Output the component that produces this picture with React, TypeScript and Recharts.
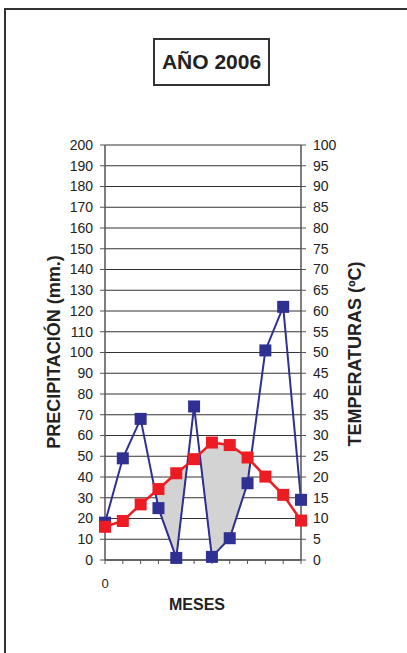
import React from 'react';
import { ComposedChart, Line, Area, XAxis, YAxis, CartesianGrid } from 'recharts';

const monthIndex = [1, 2, 3, 4, 5, 6, 7, 8, 9, 10, 11, 12];
const precipitation = [18, 49, 68, 25, 1, 74, 1.5, 10.5, 37, 101, 122, 29];
const temperature = [8, 9.4, 13.4, 17.1, 20.9, 24.3, 28.3, 27.7, 24.7, 20.1, 15.7, 9.5];
const precipTicks = [0, 10, 20, 30, 40, 50, 60, 70, 80, 90, 100, 110, 120, 130, 140, 150, 160, 170, 180, 190, 200];
const tempTicks = [0, 5, 10, 15, 20, 25, 30, 35, 40, 45, 50, 55, 60, 65, 70, 75, 80, 85, 90, 95, 100];
const xTickLabels = ['0'];

const FONT = '"Liberation Sans", Arial, sans-serif';
const BLUE = '#2e3192';
const RED = '#ed1c24';

type Row = { x: number; p: number | null; t: number | null; dry: [number, number] | null };

function buildRows(): Row[] {
  const rows: Row[] = [];
  const n = monthIndex.length;
  for (let i = 0; i < n; i++) {
    const p = precipitation[i];
    const t2 = temperature[i] * 2;
    rows.push({ x: monthIndex[i], p, t: temperature[i], dry: p < t2 ? [p, t2] : null });
    if (i < n - 1) {
      const p2 = precipitation[i + 1];
      const t22 = temperature[i + 1] * 2;
      const d1 = p - t2;
      const d2 = p2 - t22;
      if ((d1 < 0) !== (d2 < 0) && d1 !== d2) {
        const f = d1 / (d1 - d2);
        const x = monthIndex[i] + f * (monthIndex[i + 1] - monthIndex[i]);
        const v = p + f * (p2 - p);
        rows.push({ x, p: null, t: null, dry: [v, v] });
      }
    }
  }
  return rows;
}

const rows = buildRows();

const makeSquare = (color: string) => (props: any) => {
  const { cx, cy, index, value } = props;
  if (cx == null || cy == null || value == null || Number.isNaN(cy)) return <g key={`e-${index}`} />;
  const s = 12;
  return <rect key={`d-${index}`} x={cx - s / 2} y={cy - s / 2} width={s} height={s} fill={color} />;
};

const XTick = (props: any) => {
  const { x, y, index } = props;
  const label = xTickLabels[index];
  if (!label) return <g />;
  return (
    <text x={x} y={y + 22} textAnchor="middle" fontSize={13} fontFamily={FONT} fill="#222">
      {label}
    </text>
  );
};

export default function App() {
  return (
    <div style={{ position: 'absolute', left: 0, top: 0, width: 407, height: 653, background: '#fff', overflow: 'hidden' }}>
      <div
        style={{
          position: 'absolute',
          left: 4,
          top: 8,
          width: 420,
          height: 680,
          borderLeft: '2px solid #333',
          borderTop: '2px solid #333',
          boxSizing: 'border-box',
        }}
      />
      <ComposedChart
        width={407}
        height={653}
        data={rows}
        margin={{ top: 145, left: 45, right: 46, bottom: 63 }}
        style={{ position: 'absolute', left: 0, top: 0 }}
      >
        <CartesianGrid yAxisId="p" vertical={false} horizontal stroke="#333" strokeWidth={1} />
        <XAxis
          dataKey="x"
          type="number"
          domain={[1, 12]}
          ticks={monthIndex}
          interval={0}
          height={30}
          axisLine={{ stroke: '#555', strokeWidth: 1.5 }}
          tickLine={{ stroke: '#555' }}
          tickSize={4}
          tick={<XTick />}
        />
        <YAxis
          yAxisId="p"
          orientation="left"
          width={60}
          domain={[0, 200]}
          ticks={precipTicks}
          interval={0}
          axisLine={{ stroke: '#555', strokeWidth: 1.5 }}
          tickLine={{ stroke: '#555' }}
          tickSize={5}
          tickMargin={7}
          tick={{ fontSize: 14, fontFamily: FONT, fill: '#222' }}
        />
        <YAxis
          yAxisId="t"
          orientation="right"
          width={60}
          domain={[0, 100]}
          ticks={tempTicks}
          interval={0}
          axisLine={{ stroke: '#555', strokeWidth: 1.5 }}
          tickLine={{ stroke: '#555' }}
          tickSize={5}
          tickMargin={7}
          tick={{ fontSize: 14, fontFamily: FONT, fill: '#222', textAnchor: 'start' }}
        />
        <Area
          yAxisId="p"
          dataKey="dry"
          type="linear"
          fill="#d3d3d3"
          fillOpacity={1}
          stroke="#555"
          strokeWidth={1}
          dot={false}
          activeDot={false}
          isAnimationActive={false}
        />
        <Line
          yAxisId="p"
          dataKey="p"
          type="linear"
          stroke={BLUE}
          strokeWidth={2}
          connectNulls
          dot={makeSquare(BLUE)}
          activeDot={false}
          isAnimationActive={false}
        />
        <Line
          yAxisId="t"
          dataKey="t"
          type="linear"
          stroke={RED}
          strokeWidth={2.5}
          connectNulls
          dot={makeSquare(RED)}
          activeDot={false}
          isAnimationActive={false}
        />
      </ComposedChart>
      <div
        style={{
          position: 'absolute',
          left: 153,
          top: 38,
          width: 117,
          height: 48,
          border: '2px solid #333',
          boxSizing: 'border-box',
          display: 'flex',
          alignItems: 'center',
          justifyContent: 'center',
          fontFamily: FONT,
          fontWeight: 'bold',
          fontSize: 21,
          color: '#222',
          background: '#fff',
        }}
      >
        AÑO 2006
      </div>
      <div
        style={{
          position: 'absolute',
          left: 54,
          top: 352,
          transform: 'translate(-50%, -50%) rotate(-90deg)',
          whiteSpace: 'nowrap',
          fontFamily: FONT,
          fontWeight: 'bold',
          fontSize: 18,
          color: '#222',
        }}
      >
        PRECIPITACIÓN (mm.)
      </div>
      <div
        style={{
          position: 'absolute',
          left: 355,
          top: 354,
          transform: 'translate(-50%, -50%) rotate(-90deg)',
          whiteSpace: 'nowrap',
          fontFamily: FONT,
          fontWeight: 'bold',
          fontSize: 18,
          color: '#222',
        }}
      >
        TEMPERATURAS (ºC)
      </div>
      <div
        style={{
          position: 'absolute',
          left: 197,
          top: 605,
          transform: 'translate(-50%, -50%)',
          whiteSpace: 'nowrap',
          fontFamily: FONT,
          fontWeight: 'bold',
          fontSize: 16,
          color: '#222',
        }}
      >
        MESES
      </div>
    </div>
  );
}
